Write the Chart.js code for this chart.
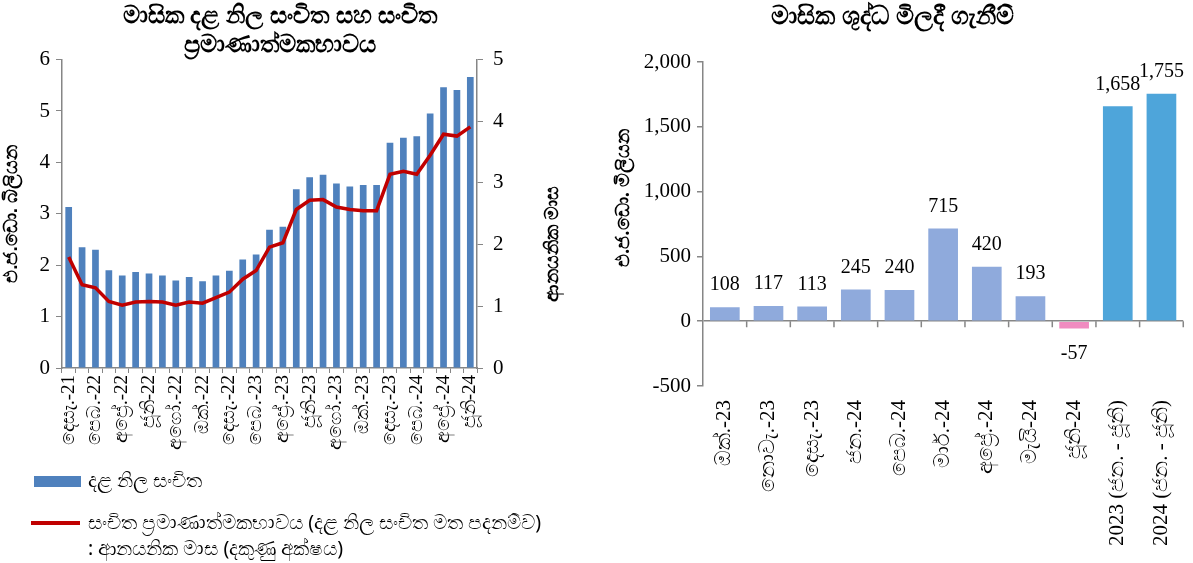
<!DOCTYPE html>
<html>
<head>
<meta charset="utf-8">
<script src="https://cdn.jsdelivr.net/npm/chart.js@4.4.1/dist/chart.umd.min.js"></script>
<style>
  body { margin: 0; background: #fff; width: 1193px; height: 563px; overflow: hidden; position: relative; font-family: "Noto Sans", "DejaVu Sans", sans-serif; }
  #left { position: absolute; left: 0; top: 0; }
  #right { position: absolute; left: 600px; top: 0; }
  .leg { position: absolute; font-size: 19.5px; color: #000; line-height: 26px; }
  .box { position: absolute; left: 34px; top: 476px; width: 47px; height: 11px; background: #4f81bd; }
  .line { position: absolute; left: 31px; top: 521px; width: 49px; height: 4px; background: #c00000; }
</style>
</head>
<body>
<canvas id="left" width="580" height="470"></canvas>
<canvas id="right" width="593" height="563"></canvas>
<div class="box"></div>
<div class="leg" style="left:88px; top:467px;">දළ නිල සංචිත</div>
<div class="line"></div>
<div class="leg" style="left:88px; top:509px;">සංචිත ප්‍රමාණාත්මකභාවය (දළ නිල සංචිත මත පදනම්ව)<br>: ආනයනික මාස (දකුණු අක්ෂය)</div>
<script>
const months = [
  'දෙසැ.-21', 'ජන.-22', 'පෙබ.-22', 'මාර්.-22', 'අප්‍රේ.-22', 'මැයි-22', 'ජූනි-22', 'ජූලි-22',
  'අගෝ.-22', 'සැප්.-22', 'ඔක්.-22', 'නොවැ.-22', 'දෙසැ.-22', 'ජන.-23', 'පෙබ.-23', 'මාර්.-23',
  'අප්‍රේ.-23', 'මැයි-23', 'ජූනි-23', 'ජූලි-23', 'අගෝ.-23', 'සැප්.-23', 'ඔක්.-23', 'නොවැ.-23',
  'දෙසැ.-23', 'ජන.-24', 'පෙබ.-24', 'මාර්.-24', 'අප්‍රේ.-24', 'මැයි-24', 'ජූනි-24'
];
const reserves = [3.13, 2.35, 2.30, 1.90, 1.80, 1.87, 1.84, 1.80, 1.70, 1.77, 1.69, 1.80, 1.89, 2.11, 2.21, 2.69,
  2.75, 3.48, 3.71, 3.76, 3.59, 3.53, 3.56, 3.56, 4.38, 4.48, 4.51, 4.95, 5.46, 5.41, 5.66];
const importMonths = [1.80, 1.35, 1.30, 1.08, 1.02, 1.07, 1.08, 1.07, 1.02, 1.07, 1.05, 1.14, 1.23, 1.44, 1.58, 1.96,
  2.03, 2.57, 2.72, 2.73, 2.61, 2.57, 2.55, 2.55, 3.14, 3.19, 3.14, 3.45, 3.79, 3.76, 3.91];

const purchaseLabels = ['ඔක්.-23', 'නොවැ.-23', 'දෙසැ.-23', 'ජන.-24', 'පෙබ.-24', 'මාර්.-24', 'අප්‍රේ.-24',
  'මැයි-24', 'ජූනි-24', '2023 (ජන. - ජූනි)', '2024 (ජන. - ජූනි)'];
const purchases = [108, 117, 113, 245, 240, 715, 420, 193, -57, 1658, 1755];

const serif = 'Liberation Serif';
const axisGray = '#868686';

function barColor(ctx) {
  const i = ctx.dataIndex;
  if (i >= 9) return '#4ea5da';
  return purchases[i] < 0 ? '#f08bc0' : '#8faadc';
}

// vertical axis title drawn bottom-to-top at a given spot
function sideTitle(id, text, x, y) {
  return {
    id: id,
    afterDraw(chart) {
      const { ctx } = chart;
      ctx.save();
      ctx.translate(x, y);
      ctx.rotate(-Math.PI / 2);
      ctx.font = 'bold 19px "Noto Sans", sans-serif';
      ctx.fillStyle = '#000';
      ctx.textAlign = 'center';
      ctx.textBaseline = 'middle';
      ctx.fillText(text, 0, 0);
      ctx.restore();
    }
  };
}

new Chart(document.getElementById('left'), {
  data: {
    labels: months,
    datasets: [
      {
        type: 'line', label: 'lineSeries', data: importMonths, yAxisID: 'y1',
        borderColor: '#c00000', borderWidth: 3.5, pointRadius: 0, tension: 0, order: 0
      },
      {
        type: 'bar', label: 'barSeries', data: reserves, yAxisID: 'y',
        backgroundColor: '#4f81bd', barPercentage: 0.5, categoryPercentage: 1, order: 1
      }
    ]
  },
  options: {
    responsive: false,
    animation: false,
    layout: { padding: { top: 0, right: 20, left: 0, bottom: 0 } },
    plugins: {
      legend: { display: false },
      tooltip: { enabled: false },
      title: {
        display: true,
        text: ['මාසික දළ නිල සංචිත සහ සංචිත', 'ප්‍රමාණාත්මකභාවය'],
        color: '#000',
        font: { size: 24, weight: 'bold' },
        lineHeight: 1.52,
        padding: { top: 2, bottom: 0 }
      }
    },
    scales: {
      x: {
        grid: { display: true, drawOnChartArea: false, color: axisGray, tickLength: 5 },
        border: { color: axisGray, width: 1.5 },
        ticks: {
          autoSkip: false, maxRotation: 90, minRotation: 90, color: '#000',
          font: { family: serif, size: 19 }, padding: 2,
          callback: (v, i) => (i % 2 === 0 ? months[i] : '')
        },
        afterFit: s => { s.height = 102; }
      },
      y: {
        position: 'left', min: 0, max: 6,
        grid: { display: true, drawOnChartArea: false, color: axisGray, tickLength: 6 },
        border: { color: axisGray, width: 1.5 },
        ticks: { stepSize: 1, color: '#000', font: { family: serif, size: 21 }, padding: 6 },
        title: { display: true, text: 'එ.ජ.ඩො. බිලියන', color: '#000', font: { size: 19, weight: 'bold' }, padding: 0 },
        afterFit: s => { s.width = 62; }
      },
      y1: {
        position: 'right', min: 0, max: 5,
        grid: { display: true, drawOnChartArea: false, color: axisGray, tickLength: 6 },
        border: { color: axisGray, width: 1.5 },
        ticks: { stepSize: 1, color: '#000', font: { family: serif, size: 21 }, padding: 10 },
        afterFit: s => { s.width = 83; }
      }
    }
  },
  plugins: [sideTitle('rightTitle', 'ආනයනික මාස', 553, 244)]
});

const valueLabels = {
  id: 'valueLabels',
  afterDatasetsDraw(chart) {
    const { ctx } = chart;
    const meta = chart.getDatasetMeta(0);
    ctx.save();
    ctx.font = '20px ' + serif;
    ctx.fillStyle = '#000';
    ctx.textAlign = 'center';
    meta.data.forEach((bar, i) => {
      const v = purchases[i];
      const txt = v.toLocaleString('en-US');
      if (v < 0) {
        ctx.textBaseline = 'top';
        ctx.fillText(txt, bar.x, bar.y + 15);
      } else {
        ctx.textBaseline = 'bottom';
        ctx.fillText(txt, bar.x, bar.y - 12);
      }
    });
    ctx.restore();
  }
};

const zeroTicks = {
  id: 'zeroTicks',
  afterDatasetsDraw(chart) {
    const { ctx } = chart;
    const xs = chart.scales.x;
    const y0 = chart.scales.y.getPixelForValue(0);
    const step = xs.width / purchases.length;
    ctx.save();
    ctx.strokeStyle = axisGray;
    ctx.lineWidth = 1.5;
    ctx.beginPath();
    for (let i = 1; i <= purchases.length; i++) {
      const x = xs.left + step * i;
      ctx.moveTo(x, y0);
      ctx.lineTo(x, y0 + 6);
    }
    ctx.stroke();
    ctx.restore();
  }
};

new Chart(document.getElementById('right'), {
  type: 'bar',
  data: {
    labels: purchaseLabels,
    datasets: [{
      label: 'purchases', data: purchases, backgroundColor: barColor,
      barPercentage: 0.68, categoryPercentage: 1
    }]
  },
  options: {
    responsive: false,
    animation: false,
    layout: { padding: { top: 0, right: 8, left: 0, bottom: 0 } },
    plugins: {
      legend: { display: false },
      tooltip: { enabled: false },
      title: {
        display: true,
        text: 'මාසික ශුද්ධ මිලදී ගැනීම්',
        color: '#000',
        font: { size: 25, weight: 'bold' },
        padding: { top: 2, bottom: 30 }
      }
    },
    scales: {
      x: {
        grid: { display: false },
        border: { display: false },
        ticks: {
          autoSkip: false, maxRotation: 90, minRotation: 90, color: '#000',
          font: { family: serif, size: 21 }, padding: 6
        },
        afterFit: s => { s.height = 177; }
      },
      y: {
        min: -500, max: 2000,
        grid: {
          display: true, drawOnChartArea: true, tickLength: 6, tickColor: axisGray,
          color: c => (c.tick && c.tick.value === 0 ? axisGray : 'rgba(0,0,0,0)'),
          lineWidth: 1.5
        },
        border: { color: axisGray, width: 1.5 },
        ticks: {
          stepSize: 500, color: '#000', font: { family: serif, size: 21 }, padding: 6,
          callback: v => v.toLocaleString('en-US')
        },
        afterFit: s => { s.width = 103; }
      }
    }
  },
  plugins: [valueLabels, zeroTicks, sideTitle('leftTitle', 'එ.ජ.ඩො. මිලියන', 24, 198)]
});
</script>
</body>
</html>
